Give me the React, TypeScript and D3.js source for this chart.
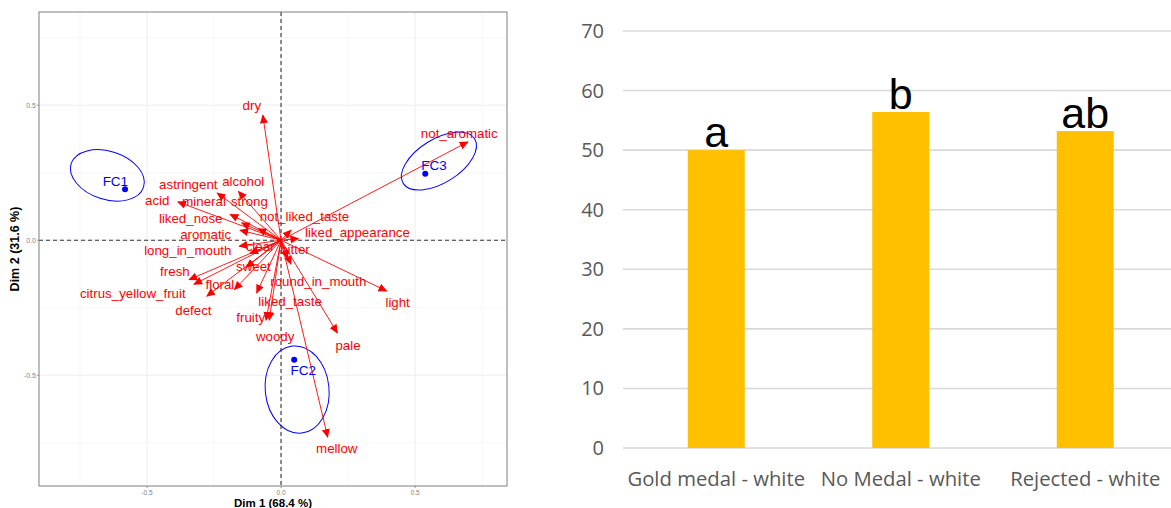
import React from "react";
import * as d3 from "d3";

// ---------- Left panel: PCA variable biplot ----------
const varNames = [
  "dry", "not_aromatic", "light", "pale", "mellow", "woody", "fruity", "liked_taste",
  "floral", "defect", "citrus_yellow_fruit", "fresh", "sweet", "long_in_mouth", "clear",
  "aromatic", "liked_nose", "mineral", "strong", "not_liked_taste", "liked_appearance",
  "bitter", "round_in_mouth", "acid", "astringent", "alcohol",
];
const dim1 = [
  -0.068, 0.697, 0.394, 0.21, 0.174, -0.044, -0.056, -0.091,
  -0.174, -0.277, -0.325, -0.343, -0.13, -0.116, -0.156,
  -0.153, -0.19, -0.147, -0.085, 0.037, 0.065,
  0.024, 0.037, -0.385, -0.238, -0.159,
];
const dim2 = [
  0.463, 0.364, -0.188, -0.343, -0.729, -0.296, -0.296, -0.195,
  -0.183, -0.207, -0.163, -0.146, -0.1, -0.049, -0.022,
  0.037, 0.096, 0.064, 0.043, 0.037, 0.006,
  -0.068, -0.089, 0.142, 0.175, 0.181,
];
// repelled label anchors (data units)
const labelDim1 = [
  -0.109, 0.665, 0.435, 0.25, 0.208, -0.022, -0.113, 0.034,
  -0.228, -0.327, -0.553, -0.396, -0.103, -0.348, -0.078,
  -0.281, -0.337, -0.287, -0.118, 0.087, 0.285,
  0.052, 0.139, -0.462, -0.346, -0.141,
];
const labelDim2 = [
  0.498, 0.396, -0.231, -0.39, -0.772, -0.357, -0.285, -0.225,
  -0.163, -0.258, -0.197, -0.117, -0.096, -0.038, -0.021,
  0.021, 0.082, 0.144, 0.145, 0.089, 0.028,
  -0.032, -0.154, 0.146, 0.208, 0.218,
];

const groups = ["FC1", "FC2", "FC3"];
const groupDim1 = [-0.582, 0.049, 0.538];
const groupDim2 = [0.189, -0.443, 0.246];
const groupLabelDim1 = [-0.618, 0.083, 0.571];
const groupLabelDim2 = [0.218, -0.48, 0.277];
// confidence ellipses: centre, semi-axes (data units), rotation (deg)
const ellipseCx = [-0.648, 0.06, 0.589];
const ellipseCy = [0.24, -0.553, 0.293];
const ellipseRx = [0.142, 0.119, 0.157];
const ellipseRy = [0.089, 0.162, 0.081];
const ellipseRot = [18, -6, -32];

const xTicks = [-0.5, 0, 0.5];
const yTicks = [-0.5, 0, 0.5];
const minorTicks = [-0.75, -0.25, 0.25, 0.75];

// ---------- Right panel: bar chart ----------
const categories = ["Gold medal - white", "No Medal - white", "Rejected - white"];
const values = [50.0, 56.4, 53.2];
const letters = ["a", "b", "ab"];
const barTicks = [0, 10, 20, 30, 40, 50, 60, 70];

export default function App() {
  const W = 1171, H = 508;
  // left panel geometry
  const pL = 39, pR = 507, pT = 12, pB = 486;
  const x = d3.scaleLinear().domain([-0.903, 0.843]).range([pL, pR]);
  const y = d3.scaleLinear().domain([-0.91, 0.845]).range([pB, pT]);

  // right panel geometry
  const xb = d3.scaleBand<string>().domain(categories).range([624, 1177.5]).paddingInner(0.691).paddingOuter(0.3455);
  const yb = d3.scaleLinear().domain([0, 70]).range([448, 31]);

  const red = "#FF0000";
  const blue = "#0000FF";

  return (
    <svg width={W} height={H} style={{ position: "absolute", left: 0, top: 0, background: "#fff" }}
      fontFamily="'Liberation Sans', Arial, sans-serif">
      <defs>
        <marker id="ah" viewBox="0 0 10 10" refX="9" refY="5" markerWidth="9" markerHeight="9"
          markerUnits="userSpaceOnUse" orient="auto">
          <path d="M0,0.5 L10,5 L0,9.5 z" fill={red} />
        </marker>
        <clipPath id="panel">
          <rect x={pL} y={pT} width={pR - pL} height={pB - pT} />
        </clipPath>
      </defs>

      {/* ---- LEFT PANEL ---- */}
      <rect x={pL} y={pT} width={pR - pL} height={pB - pT} fill="#fff" />
      <g clipPath="url(#panel)">
        {minorTicks.map((t) => (
          <g key={"mn" + t}>
            <line x1={x(t)} x2={x(t)} y1={pT} y2={pB} stroke="#F2F2F2" strokeWidth={0.6} />
            <line x1={pL} x2={pR} y1={y(t)} y2={y(t)} stroke="#F2F2F2" strokeWidth={0.6} />
          </g>
        ))}
        {xTicks.map((t) => (
          <line key={"gx" + t} x1={x(t)} x2={x(t)} y1={pT} y2={pB} stroke="#EBEBEB" strokeWidth={0.9} />
        ))}
        {yTicks.map((t) => (
          <line key={"gy" + t} x1={pL} x2={pR} y1={y(t)} y2={y(t)} stroke="#EBEBEB" strokeWidth={0.9} />
        ))}
        <line x1={x(0)} x2={x(0)} y1={pT} y2={pB} stroke="#333" strokeWidth={1.1} strokeDasharray="4,3" />
        <line x1={pL} x2={pR} y1={y(0)} y2={y(0)} stroke="#333" strokeWidth={1.1} strokeDasharray="4,3" />

        {/* ellipses */}
        {groups.map((g, i) => {
          const cx = x(ellipseCx[i]);
          const cy = y(ellipseCy[i]);
          const rx = x(ellipseRx[i]) - x(0);
          const ry = y(0) - y(ellipseRy[i]);
          return (
            <ellipse key={"el" + g} cx={cx} cy={cy} rx={rx} ry={ry}
              transform={`rotate(${ellipseRot[i]} ${cx} ${cy})`}
              fill="none" stroke={blue} strokeWidth={1} />
          );
        })}

        {/* arrows */}
        {varNames.map((n, i) => (
          <line key={"ar" + n} x1={x(0)} y1={y(0)} x2={x(dim1[i])} y2={y(dim2[i])}
            stroke={red} strokeWidth={0.9} markerEnd="url(#ah)" />
        ))}

        {/* group points */}
        {groups.map((g, i) => (
          <circle key={"pt" + g} cx={x(groupDim1[i])} cy={y(groupDim2[i])} r={3} fill={blue} />
        ))}
        {groups.map((g, i) => (
          <text key={"gl" + g} x={x(groupLabelDim1[i])} y={y(groupLabelDim2[i])} dy="0.35em"
            textAnchor="middle" fontSize={13.5} fill={blue}>{g}</text>
        ))}

        {/* variable labels */}
        {varNames.map((n, i) => (
          <text key={"lb" + n} x={x(labelDim1[i])} y={y(labelDim2[i])} dy="0.35em"
            textAnchor="middle" fontSize={13.3} fill={red}>{n}</text>
        ))}
      </g>
      <rect x={pL} y={pT} width={pR - pL} height={pB - pT} fill="none" stroke="#7F7F7F" strokeWidth={1} />

      {/* axes ticks */}
      {xTicks.map((t) => (
        <g key={"xt" + t}>
          <line x1={x(t)} x2={x(t)} y1={pB} y2={pB + 2} stroke="#7F7F7F" strokeWidth={0.8} />
          <text x={x(t)} y={pB + 8.5} textAnchor="middle" fontSize={6.5} fill="#7F7F7F">{t.toFixed(1)}</text>
        </g>
      ))}
      {yTicks.map((t) => (
        <g key={"yt" + t}>
          <line x1={pL - 2} x2={pL} y1={y(t)} y2={y(t)} stroke="#7F7F7F" strokeWidth={0.8} />
          <text x={pL - 3} y={y(t)} dy="0.35em" textAnchor="end" fontSize={7} fill="#7F7F7F">{t.toFixed(1)}</text>
        </g>
      ))}
      <text x={273} y={507} textAnchor="middle" fontSize={11.5} fontWeight="bold" fill="#000">Dim 1 (68.4 %)</text>
      <text transform={`translate(19, 249) rotate(-90)`} textAnchor="middle" fontSize={12.5}
        fontWeight="bold" fill="#000">Dim 2 (31.6 %)</text>

      {/* ---- RIGHT PANEL ---- */}
      {barTicks.map((t) => (
        <g key={"bt" + t}>
          <line x1={623} x2={W} y1={yb(t)} y2={yb(t)} stroke="#D9D9D9" strokeWidth={1.6} />
          <text x={604} y={yb(t)} dy="0.35em" textAnchor="end" fontSize={20}
            fontFamily="'Open Sans', sans-serif" fill="#595959">{t}</text>
        </g>
      ))}
      {categories.map((c, i) => (
        <g key={"bar" + c}>
          <rect x={xb(c)} y={yb(values[i])} width={xb.bandwidth()} height={yb(0) - yb(values[i])} fill="#FFC000" />
          <text x={(xb(c) as number) + xb.bandwidth() / 2} y={yb(values[i]) - 3} textAnchor="middle"
            fontSize={43} fill="#000">{letters[i]}</text>
          <text x={(xb(c) as number) + xb.bandwidth() / 2} y={486} textAnchor="middle" fontSize={20.3}
            fontFamily="'Open Sans', sans-serif" fill="#595959">{c}</text>
        </g>
      ))}
    </svg>
  );
}
